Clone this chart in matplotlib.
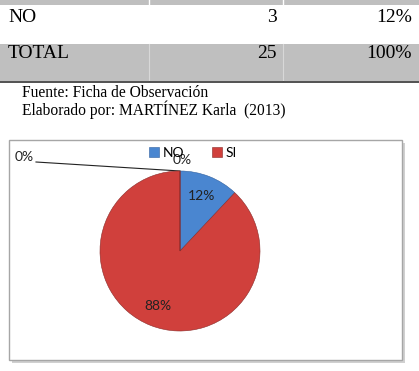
import matplotlib
matplotlib.use('Agg')
import matplotlib.pyplot as plt
from matplotlib.patches import Rectangle

# datos de la tabla
filas = ['NO', 'TOTAL']
frecuencias = [3, 25]
porcentajes = ['12%', '100%']
fuente = 'Fuente: Ficha de Observación'
elaborado = 'Elaborado por: MARTÍNEZ Karla  (2013)'

# datos del grafico
categorias = ['NO', 'SI']
valores = [3, 22, 0, 0]
colores = ['#4A86D0', '#D0403C', '#9BBB59', '#8064A2']

W, H = 419, 371
fig = plt.figure(figsize=(W / 100, H / 100), dpi=100)
bg = fig.add_axes([0, 0, 1, 1])
bg.set_xlim(0, W)
bg.set_ylim(H, 0)
bg.axis('off')

serif = ['Liberation Serif', 'DejaVu Serif']

# tabla
bg.add_patch(Rectangle((0, 0), W, 5, color='#BFBFBF', lw=0))
bg.add_patch(Rectangle((0, 44), W, 37, color='#BFBFBF', lw=0))
for xv in [149, 283]:
    bg.plot([xv, xv], [0, 5], color='white', lw=1)
    bg.plot([xv, xv], [44, 81], color='#D8D8D8', lw=0.8)
bg.plot([0, W], [81.5, 81.5], color='#333333', lw=1.2)
ys = [17, 54]
for i in range(len(filas)):
    bg.text(8, ys[i], filas[i], fontsize=14, family=serif, va='center', ha='left')
    bg.text(277, ys[i], str(frecuencias[i]), fontsize=14, family=serif, va='center', ha='right')
    bg.text(412, ys[i], porcentajes[i], fontsize=14, family=serif, va='center', ha='right')
bg.text(22, 93, fuente, fontsize=11.2, family=serif, va='center', ha='left')
bg.text(22, 110, elaborado, fontsize=11.2, family=serif, va='center', ha='left')

# marco del grafico con sombra
bg.add_patch(Rectangle((12, 143), 393, 220, facecolor='#D0D0D0', edgecolor='none'))
bg.add_patch(Rectangle((9, 140), 393, 220, facecolor='white', edgecolor='#A6A6A6', lw=1))

# pastel
cx, cy, r = 180, 251, 80
ax = fig.add_axes([(cx - r) / W, 1 - (cy + r) / H, 2 * r / W, 2 * r / H])
total = sum(valores)
wedges, textos, autot = ax.pie(valores, colors=colores, startangle=90, counterclock=False,
                               autopct=lambda p: '%.0f%%' % p if p > 0 else '',
                               pctdistance=0.74,
                               wedgeprops=dict(edgecolor='#8A2A28', linewidth=0.4),
                               textprops=dict(fontsize=10, family='Lato', color='#222222'))
wedges[0].set_edgecolor('#2F5F9E')
ax.set_xlim(-1, 1)
ax.set_ylim(-1, 1)
ax.axis('off')

# etiquetas de los valores cero
ceros = [v for v in valores if v == 0]
pct0 = '%.0f%%' % (100 * ceros[0] / total)
bg.text(15, 157, pct0, fontsize=10, family='Lato', color='#222222', va='center', ha='left')
bg.plot([36, 180], [162, 171], color='#222222', lw=0.8)
bg.text(182, 160, '%.0f%%' % (100 * ceros[1] / total), fontsize=10, family='Lato',
        color='#222222', va='center', ha='center')

fig.legend(wedges[:2], categorias, loc='center', bbox_to_anchor=(193 / W, 1 - 153 / H),
           ncol=2, frameon=False, handlelength=0.7, handleheight=0.7, handletextpad=0.3,
           columnspacing=2.0, prop=dict(family='Lato', size=10))

fig.savefig('out.png', dpi=100)
